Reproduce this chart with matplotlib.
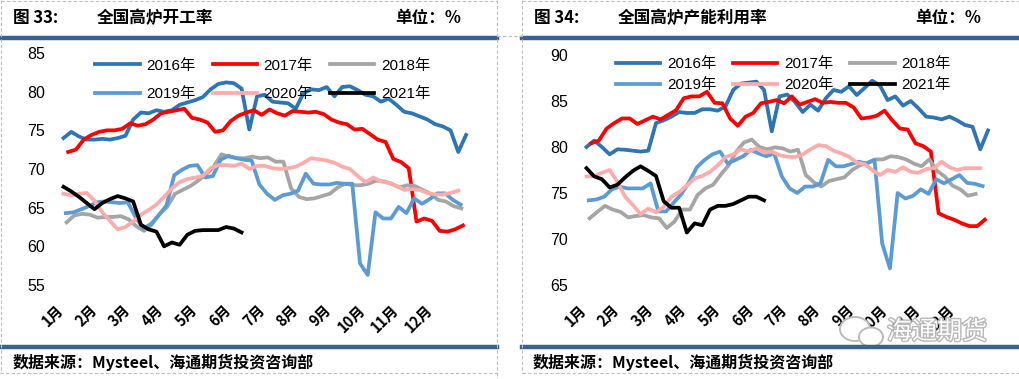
import numpy as np
import matplotlib
matplotlib.use('Agg')
import matplotlib.pyplot as plt
import matplotlib.patheffects as pe
from matplotlib.patches import Ellipse

plt.rcParams['font.family'] = ['Liberation Sans', 'Noto Sans CJK SC', 'DejaVu Sans']

# ---- data (weekly values) ----
years = ['2016年', '2017年', '2018年', '2019年', '2020年', '2021年']
colors = ['#2E75B6', '#FF0000', '#A5A5A5', '#5B9BD5', '#FFABAB', '#000000']
offsets = [0, 0.6, 0.4, 0.3, 0, 0]  # week offset of first point

months = ['1月', '2月', '3月', '4月', '5月', '6月', '7月', '8月', '9月', '10月', '11月', '12月']

# 全国高炉开工率
open_2016 = [74.0, 74.8, 74.2, 73.8, 73.8, 73.9, 73.8, 74.0, 74.3, 76.4,
             77.3, 77.2, 77.6, 77.4, 77.6, 78.3, 78.6, 78.9, 79.3, 80.3,
             81.0, 81.2, 81.1, 80.4, 75.1, 79.4, 79.6, 78.7, 78.6, 78.5,
             77.8, 79.8, 80.3, 80.2, 80.6, 79.4, 80.6, 80.7, 80.2, 79.6,
             79.4, 78.7, 79.1, 78.3, 77.4, 77.2, 76.8, 76.4, 75.8, 75.5,
             75.0, 72.2, 74.4]
open_2017 = [72.2, 72.5, 73.8, 74.4, 74.8, 75.0, 75.0, 75.2, 75.9, 75.6,
             75.8, 76.4, 77.2, 77.4, 77.6, 77.8, 76.6, 76.4, 76.0, 74.8,
             75.0, 76.2, 76.9, 77.3, 77.6, 77.0, 77.7, 77.2, 76.9, 77.5,
             77.4, 77.3, 77.4, 77.1, 76.4, 76.0, 75.8, 75.1, 75.2, 74.5,
             73.8, 73.5, 71.3, 70.9, 70.1, 63.2, 63.6, 63.3, 62.0, 61.9,
             62.2, 62.7]
open_2018 = [63.1, 64.0, 64.2, 64.1, 63.7, 63.8, 63.8, 63.9, 63.5, 62.6,
             62.0, 62.8, 64.2, 65.1, 66.8, 67.3, 67.8, 68.5, 69.3, 70.3,
             71.9, 71.6, 71.4, 71.4, 71.6, 71.4, 71.5, 70.95, 70.95, 67.5,
             66.4, 66.1, 66.2, 66.5, 66.8, 67.6, 68.1, 67.9, 67.9, 68.1,
             68.5, 68.4, 68.1, 67.6, 67.9, 67.8, 67.3, 66.8, 66.0, 65.8,
             65.2, 64.9]
open_2019 = [64.3, 64.4, 64.8, 65.2, 65.7, 65.8, 65.7, 65.6, 65.7, 63.8,
             62.3, 62.9, 64.0, 65.3, 69.2, 69.9, 70.4, 70.5, 68.9, 69.1,
             71.2, 71.7, 71.4, 71.2, 71.1, 68.0, 66.8, 66.0, 66.6, 66.8,
             67.2, 69.4, 68.1, 68.0, 68.0, 68.2, 68.1, 68.1, 57.8, 56.3,
             64.4, 63.6, 63.6, 65.1, 64.3, 66.2, 65.5, 66.1, 66.85, 66.85,
             66.0, 65.4]
open_2020 = [66.8, 66.6, 66.8, 66.9, 65.9, 64.4, 63.3, 62.2, 62.5, 63.2,
             64.1, 64.7, 65.4, 66.4, 67.5, 68.3, 68.7, 68.9, 69.1, 70.1,
             70.5, 70.5, 70.4, 70.7, 70.0, 70.4, 70.4, 70.1, 70.0, 70.1,
             70.3, 70.8, 71.4, 71.25, 71.1, 70.8, 70.3, 70.0, 69.1, 68.3,
             68.9, 68.4, 68.2, 67.8, 67.3, 67.4, 67.3, 66.9, 66.7, 66.7,
             66.9, 67.2]
open_2021 = [67.7, 67.1, 66.4, 65.6, 64.8, 65.6, 66.1, 66.5, 66.2, 65.8,
             62.8, 62.2, 61.9, 60.0, 60.5, 60.2, 61.5, 62.0, 62.1, 62.1,
             62.1, 62.5, 62.3, 61.8]

# 全国高炉产能利用率
cap_2016 = [80.0, 80.7, 80.0, 79.2, 79.75, 79.7, 79.6, 79.5, 79.6, 82.6,
            82.9, 83.3, 83.8, 83.7, 83.7, 84.1, 84.1, 83.95, 84.4, 86.2,
            86.9, 87.0, 87.1, 86.2, 81.7, 85.5, 85.7, 84.9, 83.8, 84.6,
            83.95, 85.3, 86.2, 86.0, 86.6, 85.65, 86.4, 87.2, 86.7, 85.1,
            85.5, 84.5, 85.0, 84.2, 83.3, 83.2, 83.0, 83.3, 82.9, 82.4,
            82.2, 79.75, 81.8]
cap_2017 = [80.4, 80.7, 82.0, 82.6, 83.1, 83.1, 82.5, 82.9, 83.3, 83.0,
            83.5, 84.0, 85.3, 85.5, 85.5, 86.0, 84.8, 84.75, 83.1, 82.3,
            83.3, 83.7, 84.75, 84.9, 85.1, 84.75, 85.5, 84.6, 84.9, 85.2,
            84.8, 84.9, 84.8, 84.8, 84.3, 83.1, 83.2, 83.4, 83.95, 82.9,
            82.0, 81.9, 80.4, 80.1, 79.5, 72.8, 72.4, 72.1, 71.7, 71.4,
            71.4, 72.1]
cap_2018 = [72.25, 72.95, 73.6, 73.2, 72.95, 72.35, 72.5, 72.6, 72.35, 72.25,
            71.2, 71.9, 73.2, 73.2, 74.8, 75.5, 75.9, 77.0, 78.0, 79.5,
            80.5, 80.8, 80.0, 79.75, 79.96, 79.85, 79.5, 79.7, 76.95, 76.2,
            75.7, 76.3, 76.5, 76.7, 77.5, 78.0, 78.3, 78.65, 78.65, 79.0,
            78.9, 78.65, 78.2, 77.9, 78.65, 77.4, 76.8, 75.8, 75.4, 74.7,
            74.9]
cap_2019 = [74.2, 74.3, 74.6, 75.4, 75.7, 75.5, 75.5, 75.5, 76.05, 73.0,
            73.0, 73.95, 74.9, 76.2, 77.8, 78.6, 79.2, 79.5, 78.2, 78.6,
            79.0, 79.7, 79.3, 79.0, 79.3, 76.8, 75.5, 75.0, 75.7, 75.7,
            76.05, 78.6, 77.9, 77.9, 78.15, 78.4, 78.2, 78.6, 69.5, 66.8,
            75.0, 74.4, 74.7, 75.4, 74.9, 76.5, 76.05, 76.5, 76.95, 76.1,
            76.0, 75.75]
cap_2020 = [76.8, 76.85, 77.2, 77.5, 76.2, 74.6, 73.7, 72.7, 73.3, 72.9,
            73.5, 74.6, 75.1, 75.8, 76.6, 76.85, 77.3, 78.0, 78.9, 79.2,
            79.75, 79.5, 79.85, 79.4, 79.5, 79.1, 78.95, 78.9, 79.2, 79.75,
            80.2, 80.1, 79.6, 79.3, 78.95, 78.3, 78.15, 77.5, 76.95, 77.5,
            77.3, 77.8, 77.3, 77.2, 77.6, 77.7, 78.4, 77.8, 77.5, 77.7,
            77.7, 77.7]
cap_2021 = [77.7, 76.8, 76.5, 75.6, 75.9, 76.7, 77.4, 77.9, 77.4, 76.85,
            74.1, 73.4, 73.4, 70.7, 71.7, 71.5, 73.2, 73.6, 73.6, 73.8,
            74.2, 74.6, 74.6, 74.2]

open_series = [open_2016, open_2017, open_2018, open_2019, open_2020, open_2021]
cap_series = [cap_2016, cap_2017, cap_2018, cap_2019, cap_2020, cap_2021]

W, H = 1020, 379
fig = plt.figure(figsize=(W / 100, H / 100), dpi=100)


def fx(x):
    return x / W


def fy(y):
    return 1 - y / H


def draw_panel(ax, series, ylim, yticks, xlim, leg_y, leg_space):
    for vals, lab, col, off in zip(series, years, colors, offsets):
        x = np.arange(len(vals)) + off
        ax.plot(x, vals, color=col, lw=2.7, label=lab)
    ax.set_ylim(*ylim)
    ax.set_xlim(*xlim)
    ax.set_yticks(yticks)
    ax.set_yticklabels([str(t) for t in yticks], fontsize=11.5)
    pos = [i * 52 / 12 - 1.1 for i in range(12)]
    ax.set_xticks(pos)
    ax.set_xticklabels(months, rotation=45, ha='right', va='top',
                       rotation_mode='anchor', fontsize=10.5, fontweight='bold',
                       family=['Noto Sans CJK SC'])
    ax.tick_params(length=0, axis='y', pad=7)
    ax.tick_params(length=0, axis='x', pad=12)
    for s in ax.spines.values():
        s.set_visible(False)
    h, l = ax.get_legend_handles_labels()
    order = [0, 3, 1, 4, 2, 5]
    ax.legend([h[i] for i in order], [l[i] for i in order], ncol=3,
              loc='upper center', bbox_to_anchor=(0.47, leg_y), frameon=False,
              fontsize=11, handlelength=2.9, handletextpad=0.45,
              columnspacing=1.1, labelspacing=leg_space)


ax1 = fig.add_axes([fx(55), fy(285), fx(497 - 55), (285 - 53) / H])
draw_panel(ax1, open_series, (55, 85), [55, 60, 65, 70, 75, 80, 85],
           (-0.64, 56.0), 1.035, 0.95)

ax2 = fig.add_axes([fx(578), fy(285), fx(1015 - 578), (285 - 55) / H])
draw_panel(ax2, cap_series, (65, 90), [65, 70, 75, 80, 85, 90],
           (-0.9, 55.5), 1.05, 0.45)

# frame lines, titles and footers
blue = '#3B5F8E'
for x0, x1 in [(0, 497), (522, 1018)]:
    fig.add_artist(plt.Line2D([fx(x0), fx(x1)], [fy(37.5), fy(37.5)], color=blue, lw=3.2))
    fig.add_artist(plt.Line2D([fx(x0), fx(x1)], [fy(347), fy(347)], color=blue, lw=3.2))

dash = dict(color='#BFBFBF', lw=0.8, ls=(0, (3, 2)))
fig.add_artist(plt.Line2D([fx(1), fx(497)], [fy(1), fy(1)], **dash))
fig.add_artist(plt.Line2D([fx(497), fx(497)], [fy(0), fy(379)], **dash))
fig.add_artist(plt.Line2D([fx(1), fx(1)], [fy(0), fy(373)], **dash))
fig.add_artist(plt.Line2D([fx(0), fx(497)], [fy(373), fy(373)], **dash))
fig.add_artist(plt.Line2D([fx(497), fx(522)], [fy(36), fy(36)], **dash))
fig.add_artist(plt.Line2D([fx(522), fx(522)], [fy(0), fy(373)], **dash))
fig.add_artist(plt.Line2D([fx(522), fx(1018)], [fy(1), fy(1)], **dash))
fig.add_artist(plt.Line2D([fx(522), fx(1020)], [fy(373), fy(373)], **dash))

tkw = dict(fontsize=12, fontweight='bold', va='center', family=['Noto Sans CJK SC'])
fig.text(fx(13), fy(18), '图 33:', **tkw)
fig.text(fx(97), fy(18), '全国高炉开工率', **tkw)
fig.text(fx(395), fy(18), '单位：%', **tkw)
fig.text(fx(534), fy(18), '图 34:', **tkw)
fig.text(fx(618), fy(18), '全国高炉产能利用率', **tkw)
fig.text(fx(915), fy(18), '单位：%', **tkw)

fkw = dict(fontsize=11.5, fontweight='bold', va='center', family=['Noto Sans CJK SC'])
fig.text(fx(13), fy(362), '数据来源：Mysteel、海通期货投资咨询部', **fkw)
fig.text(fx(533), fy(362), '数据来源：Mysteel、海通期货投资咨询部', **fkw)

# watermark
for (cx, cy, w, h) in [(855, 329, 30, 24), (871, 337, 24, 19)]:
    fig.add_artist(Ellipse((fx(cx), fy(cy)), w / W, h / H, transform=fig.transFigure,
                           facecolor='white', edgecolor='#BBBBBB', lw=1.4))
fig.text(fx(937), fy(332), '海通期货', fontsize=18, ha='center', va='center',
         color='white', family=['Noto Sans CJK SC'],
         path_effects=[pe.withStroke(linewidth=2, foreground='#B8B8B8')])

fig.savefig('out.png', dpi=100)
